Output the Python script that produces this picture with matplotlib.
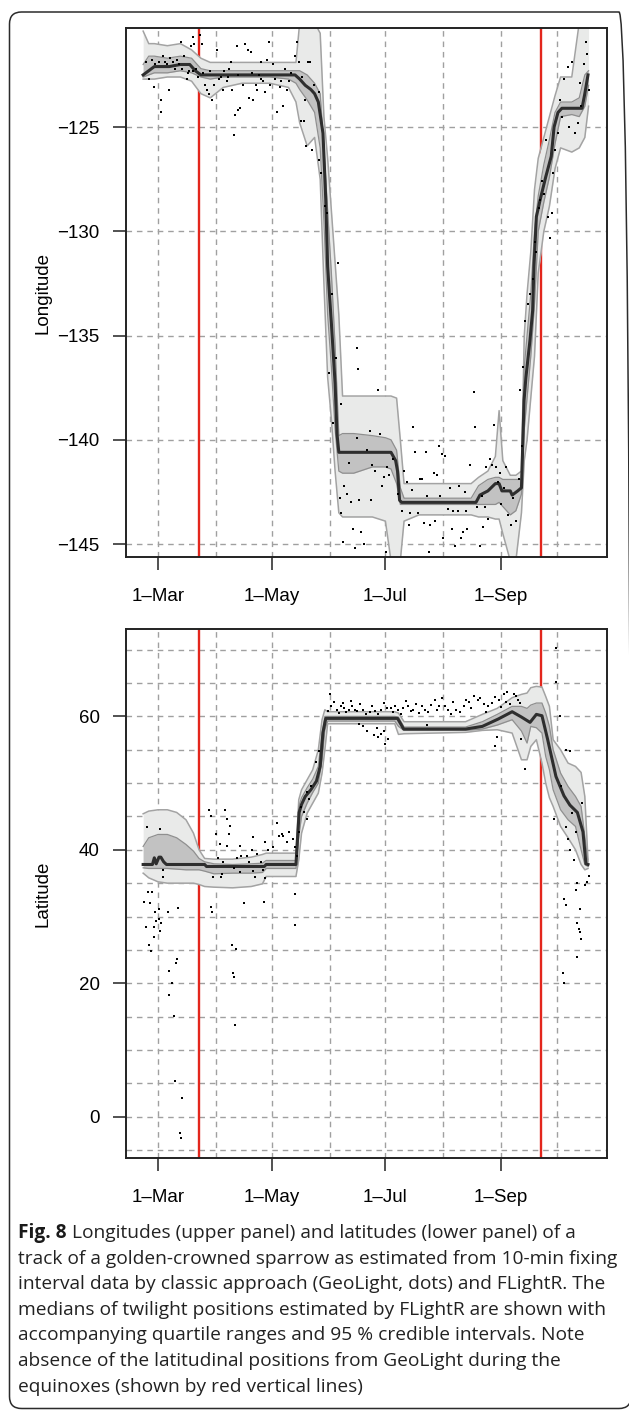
import matplotlib
matplotlib.use("Agg")
import matplotlib.pyplot as plt
from matplotlib.patches import FancyBboxPatch
from matplotlib.transforms import IdentityTransform

# %%
# DATA (day of year, 2013)

month_ticks = [60, 121, 182, 244]
month_labels = ["1\u2013Mar", "1\u2013May", "1\u2013Jul", "1\u2013Sep"]
month_grid = [60, 91, 121, 152, 182, 213, 244, 274]
equinox_days = [82, 265.5]

# longitude - FLightR median
lon_med_day = [52, 55, 58, 66, 72, 77, 80, 83, 100, 120, 133.5, 136, 139, 142, 144, 146,
               148.5, 150, 151, 153, 155, 156, 157, 170, 185, 187.5, 188.5, 189.6, 190.7,
               210, 230.6, 232.7, 237, 241, 243, 244.5, 249, 250, 253, 255, 256.4, 257.4,
               259.6, 261, 261.7, 263, 265, 268, 271, 272.5, 274.6, 276.7, 282, 287.5, 289, 290.7]
lon_med = [-122.5, -122.3, -122.1, -122.1, -122.0, -122.0, -122.3, -122.5, -122.5, -122.5,
           -122.5, -122.7, -123.0, -123.2, -123.4, -123.8, -125.3, -128.5, -131.7, -134.4,
           -137.3, -139.7, -140.6, -140.6, -140.6, -141.0, -141.5, -142.9, -143.0, -143.0,
           -143.0, -142.65, -142.45, -142.1, -142.1, -142.45, -142.45, -142.65, -142.45,
           -142.3, -138.1, -137.0, -135.2, -133.8, -131.7, -129.3, -128.5, -127.4, -126.4,
           -125.0, -124.3, -124.1, -124.1, -124.1, -123.4, -122.5]

# longitude - quartiles and 95% interval
lon_band_day = [52, 55, 58, 65, 72, 78, 83, 88, 95, 105, 120, 130, 134, 136, 140, 144, 147,
                149, 151, 153, 155, 157, 159, 165, 175, 182, 185, 188, 190, 192, 200, 215,
                228, 232, 237, 241, 243, 245, 249, 252, 255, 256.5, 258, 260, 262, 264, 267,
                270, 273, 276, 282, 286, 289, 291]
lon_hi95 = [-120.4, -121.0, -121.0, -121.1, -121.0, -121.3, -121.7, -121.9, -121.9, -121.9,
            -121.9, -121.9, -121.9, -120.0, -120.0, -120.0, -120.5, -124.5, -126.5, -129.0,
            -131.5, -134.0, -137.9, -137.9, -137.9, -137.9, -137.9, -138.0, -140.0, -142.1,
            -142.1, -142.1, -142.1, -141.8, -141.5, -140.8, -138.6, -141.0, -141.7, -141.7,
            -141.5, -135.0, -133.0, -131.0, -128.0, -126.5, -125.5, -124.5, -123.5, -122.6,
            -122.6, -120.0, -120.0, -120.0]
lon_q75 = [-122.0, -121.6, -121.6, -121.7, -121.6, -121.7, -122.2, -122.3, -122.3, -122.3,
           -122.3, -122.3, -122.3, -122.3, -122.5, -122.9, -123.4, -126.0, -129.0, -132.0,
           -135.5, -139.8, -139.7, -139.7, -139.8, -139.9, -140.0, -140.5, -142.3, -142.8,
           -142.8, -142.8, -142.8, -142.2, -141.9, -141.8, -141.8, -141.9, -141.9, -141.9,
           -141.9, -136.5, -135.0, -133.0, -130.0, -128.3, -126.8, -125.6, -124.3, -123.8,
           -123.8, -123.6, -122.5, -122.3]
lon_q25 = [-122.6, -122.5, -122.4, -122.4, -122.3, -122.4, -122.6, -122.7, -122.6, -122.6,
           -122.6, -122.7, -122.9, -123.2, -123.7, -124.3, -126.0, -129.5, -134.0, -136.5,
           -139.5, -141.5, -141.6, -141.6, -141.3, -141.3, -141.4, -142.1, -143.1, -143.1,
           -143.1, -143.1, -143.1, -143.1, -143.1, -143.1, -143.0, -143.2, -143.6, -143.4,
           -142.6, -139.5, -138.0, -136.0, -133.5, -130.0, -128.6, -127.4, -125.8, -124.5,
           -124.4, -124.5, -124.0, -123.0]
lon_lo95 = [-122.7, -122.7, -122.7, -122.6, -122.6, -122.8, -123.4, -123.6, -123.1, -122.9,
            -122.9, -123.1, -123.8, -124.8, -125.9, -125.5, -127.5, -132.5, -137.0, -139.0,
            -141.5, -143.5, -143.7, -143.7, -143.7, -143.9, -145.8, -145.8, -145.8, -143.9,
            -143.6, -143.6, -143.6, -143.7, -143.7, -143.8, -143.8, -144.5, -145.8, -145.8,
            -143.5, -141.0, -140.0, -138.0, -136.0, -132.0, -130.0, -128.8, -127.0, -126.0,
            -126.2, -126.0, -125.5, -124.0]

# longitude - GeoLight positions (dots)
lon_dot_day = [53.8, 55.4, 57.7, 56.5, 60.3, 61.8, 61.8, 63.6, 65.7, 67.9, 70, 72.2, 73, 75.5,
               76.5, 77.5, 78.7, 79.5, 80.5, 82.4, 83.5, 85.1, 86.2, 87.3, 89, 89.8, 91.6,
               92.7, 93.7, 94.8, 96.9, 98, 99, 99.9, 101.5, 102.3, 102.9, 104.2, 100.6, 105.6,
               106.7, 108.4, 108.8, 110.1, 111.2, 112.3, 113.1, 114.2, 115.3, 116.4, 117.4,
               118.5, 119.6, 120.3, 121.7, 123.9, 125.4, 126, 127.1, 129.3, 130.4, 134.7,
               135.8, 136.8, 138.3, 140.7, 141.8, 139, 139.5, 142.8, 146.1, 146.5, 147.2,
               58.5, 62.5, 64.6, 66.5, 69, 71, 74, 76, 79, 81.5, 84, 88, 95.5, 97.5, 103,
               110.5, 115, 122.5, 128, 131.5, 133.5, 137, 143.5,
               149.7, 150.8, 151.9, 153.5, 154.1, 155.5, 156.5, 158, 157.5, 158.4, 159, 160,
               161.5, 162.7, 163.5, 164.8, 165.5, 167, 167.2, 166.5, 168, 169.1, 170.5, 172,
               173.5, 174, 175, 177.8, 176.5, 179, 180, 181, 182.5, 183, 184, 186, 188.5,
               190.7, 192, 193.5, 194.5, 195, 196.5, 197, 198, 199.3, 200.5, 201.5, 202.5,
               203.6, 204.5, 205.5, 206, 207.9, 208.5, 209.5, 210.5, 211.5, 212.3, 213, 214,
               215.5, 216.5, 217.5, 218.5, 219.5, 220.8, 221.5, 222.5, 223.5, 224.5, 225.2,
               226, 227.5, 229.5, 230, 231, 232.5, 233.8, 234.5, 235.5, 236, 237, 238.1, 239,
               240.5, 241.5, 242.5, 243.5, 244, 245.5, 246.5, 248, 249.5, 250.5, 252, 253.5,
               254, 255.3, 256, 257, 258.5, 259.6, 261, 262, 263, 264.3, 265, 266, 267.3,
               268.2, 269, 270.5, 271.5, 272, 273, 274.5, 275.5, 276.8, 277.9, 279.9, 280.5,
               282.3, 283.8, 285.2, 286.5, 287.1, 288.5, 289.7, 290.3, 291]
lon_dot = [-121.9, -122.7, -123.1, -121.8, -121.9, -123.7, -124.3, -121.9, -123.2, -121.9,
           -121.8, -120.9, -122.2, -122.7, -122.3, -121.1, -120.7, -121.0, -122.2, -120.6,
           -121.0, -123.0, -123.2, -123.4, -123.7, -123.0, -121.3, -122.7, -122.6, -123.2,
           -122.8, -122.2, -121.9, -123.2, -124.4, -121.1, -124.2, -124.1, -125.4, -123.0,
           -121.0, -121.3, -123.6, -121.4, -123.7, -123.0, -123.2, -122.5, -122.7, -122.8,
           -123.3, -121.8, -120.9, -123.0, -122.0, -124.3, -123.1, -122.8, -124.0, -123.2,
           -122.8, -120.9, -121.9, -124.7, -124.7, -121.9, -121.9, -123.7, -125.9, -126.1,
           -123.3, -126.6, -127.2,
           -122.0, -121.6, -122.0, -121.7, -122.2, -122.0, -121.6, -122.4, -122.3, -122.6,
           -122.4, -122.3, -122.3, -122.6, -122.5, -122.4, -121.9, -122.7, -122.2, -122.4,
           -121.6, -122.6, -123.0,
           -128.8, -129.1, -136.8, -133.0, -139.2, -136.1, -131.5, -138.3, -142.8, -143.5,
           -144.9, -142.2, -142.6, -141.1, -143.0, -144.3, -145.2, -135.6, -136.6, -139.9,
           -142.9, -144.4, -145.0, -140.5, -139.6, -142.9, -141.2, -137.6, -141.5, -139.7,
           -142.2, -141.8, -145.4, -141.3, -141.7, -140.9, -142.6, -143.4, -141.5, -142.0,
           -144.1, -143.5, -142.4, -139.4, -140.6, -143.5, -141.9, -141.9, -144.0, -140.6,
           -142.7, -145.4, -144.1, -141.6, -143.9, -141.7, -140.3, -142.7, -140.7, -144.7,
           -140.8, -143.3, -142.3, -144.3, -143.4, -145.1, -143.4, -142.2, -144.7, -144.4,
           -142.5, -143.4, -144.3, -141.2, -137.7, -139.4, -143.2, -145.1, -142.7, -144.2,
           -143.2, -141.3, -143.8, -140.9, -141.2, -139.3, -141.3, -142.0, -141.6, -143.1,
           -142.3, -141.3, -143.6, -144.1, -142.8, -143.9, -141.9,
           -137.6, -140.3, -136.5, -134.3, -133.5, -133.0, -132.3, -130.5, -131.0, -128.9,
           -128.5, -127.6, -128.2, -125.6, -129.3, -130.3, -129.1, -127.2, -126.1, -125.3,
           -123.7, -124.5, -122.7, -122.1, -125.0, -121.9, -125.3, -124.8, -122.9, -124.0,
           -122.0, -120.9, -121.5, -123.2]

# latitude - FLightR median
lat_med_day = [52, 57, 58, 59, 60.5, 61.5, 63, 64.5, 85, 86, 117, 118, 134, 135.7, 137, 139,
               142, 145, 147, 148.5, 150, 188.5, 191.8, 225, 234, 242.5, 250, 255, 259.6,
               263, 266, 269, 273.5, 277.8, 281, 285, 288, 289.6, 290.7]
lat_med = [37.8, 37.8, 38.8, 37.9, 38.9, 38.9, 38.2, 37.8, 37.8, 37.5, 37.5, 37.8, 37.8, 45.6,
           46.8, 48.0, 49.0, 50.3, 52.5, 57.6, 59.7, 59.7, 58.1, 58.1, 58.5, 59.6, 60.7, 59.9,
           59.1, 60.3, 60.1, 56.6, 51.0, 48.1, 46.7, 45.6, 42.7, 37.9, 37.8]

# latitude - quartiles and 95% interval
lat_band_day = [52, 55, 60, 65, 70, 75, 79, 82, 85, 90, 100, 110, 116, 118, 133, 134, 135.5,
                137, 140, 143, 146, 148, 149.5, 151, 187, 189, 192, 225, 234, 242, 250, 255,
                258, 260, 263, 266, 268, 270, 272, 276, 280, 284, 287, 289, 290.7]
lat_hi95 = [45.4, 45.8, 46.0, 46.0, 45.6, 44.5, 42.5, 40.0, 38.7, 38.6, 38.6, 38.9, 39.3, 39.5,
            39.5, 39.5, 47.5, 49.0, 50.5, 52.0, 55.0, 59.5, 61.0, 60.7, 60.7, 60.5, 59.2, 59.2,
            60.3, 61.2, 62.8, 63.3, 63.5, 64.3, 64.5, 64.4, 63.0, 61.5, 56.5, 55.0, 53.0,
            52.5, 51.6, 48.0, 38.5]
lat_q75 = [40.5, 41.8, 42.3, 42.3, 41.8, 40.8, 39.8, 38.7, 38.2, 37.9, 37.8, 37.9, 38.0, 38.4,
           38.4, 38.4, 46.5, 47.8, 49.3, 50.6, 52.5, 57.5, 60.0, 60.0, 60.0, 59.9, 58.4, 58.4,
           59.2, 60.3, 61.5, 61.5, 61.2, 61.7, 62.0, 62.0, 60.5, 58.5, 55.0, 51.5, 49.5,
           48.0, 46.5, 42.0, 38.2]
lat_q25 = [37.3, 37.2, 37.2, 37.2, 37.1, 37.0, 37.0, 37.0, 36.8, 36.4, 36.5, 36.5, 36.6, 37.2,
           37.2, 37.2, 42.0, 45.0, 47.0, 48.6, 50.0, 53.5, 58.0, 59.3, 59.3, 58.5, 57.9, 57.9,
           58.1, 58.7, 59.5, 57.8, 56.0, 58.5, 58.3, 57.5, 54.0, 52.0, 49.0, 46.0, 44.5,
           43.5, 40.0, 37.8, 37.5]
lat_lo95 = [36.5, 35.8, 35.2, 35.0, 35.0, 35.0, 35.0, 34.8, 34.5, 34.4, 34.3, 34.5, 34.9, 36.0,
            36.0, 36.0, 38.5, 42.5, 45.5, 47.0, 48.5, 51.5, 55.0, 58.9, 58.9, 57.3, 57.4, 57.6,
            57.9, 58.0, 57.5, 53.5, 53.5, 55.5, 56.5, 53.0, 50.0, 47.8, 46.5, 43.5, 41.8,
            40.0, 37.8, 37.0, 37.2]

# latitude - GeoLight positions (dots)
lat_dot_day = [53.5, 56, 58, 59, 61.4, 55, 66, 67.5, 70, 69.5, 65.7, 68.3, 69, 72.8, 72, 72.3,
               54, 61, 62.7, 62.5, 54.6, 57, 52.5, 55.5, 60.3, 58.5, 65.3, 70.5, 60.7, 58, 61,
               87.4, 88.5, 96, 97, 98.5, 98, 91, 93, 97, 104, 111, 110.5, 92, 95, 102.4, 104.5,
               107.7, 109, 113, 115, 117.4, 119, 121.7, 123.6, 125, 126.7, 127, 129, 130.3,
               132.5, 133.5, 135.6, 134.5, 94.5, 94, 101, 104, 111, 112, 116.4, 117.4, 89.6,
               106, 117, 133.5, 89, 88.5, 99.7, 101.8, 100, 100.5, 101.3, 133.5,
               136.7, 140, 142, 145, 146.3, 141, 139.7, 138.5,
               152, 153, 156, 158, 160, 162.6, 164, 167, 170, 173.5, 176.5, 179.7, 183, 185,
               187, 189, 191.7, 194, 197, 200, 203.3, 206.4, 208.7, 211, 214, 217, 220, 225,
               227, 229.4, 231.5, 234.7, 237, 241, 243, 245.5, 247.5, 250.8, 253,
               151, 154.5, 157, 159, 161, 163.5, 165.5, 168.5, 171.5, 175, 178, 181, 186,
               190.5, 193, 195.5, 198.5, 201.5, 205, 209.5, 212.5, 215.5, 218.5, 222, 224,
               228, 233, 236, 239, 244, 246.5, 249, 252, 254,
               168, 170, 177.5, 178, 179.7, 182, 181.5, 204.5, 241, 242, 257, 255, 172, 176,
               183.5,
               273.5, 273.5, 275.6, 278.8, 281, 272.5, 278.8, 280, 281, 284, 285, 290, 291,
               289, 284, 286.5, 278, 278.8, 286, 285, 286.5, 287, 285, 277.5, 278, 282, 287.5,
               276, 283]
lat_dot = [28.4, 24.8, 27.0, 29.3, 29.0, 25.7, 21.8, 20.0, 23.7, 23.0, 18.2, 15.1, 5.4, 2.8,
           -2.4, -3.2, 43.4, 43.1, 36.9, 35.9, 33.7, 33.7, 32.2, 32.0, 31.2, 30.7, 30.7, 31.3,
           29.7, 28.5, 27.8,
           46.0, 45.1, 46.0, 44.6, 43.6, 42.4, 42.4, 40.9, 40.6, 40.6, 41.9, 39.9, 38.7, 38.2,
           38.7, 39.0, 39.1, 38.2, 39.3, 38.2, 41.2, 39.9, 40.4, 44.0, 42.1, 42.4, 42.0, 41.2,
           42.6, 41.6, 40.4, 42.6, 39.1, 36.4, 35.9, 37.2, 36.6, 36.8, 35.9, 36.9, 35.7, 35.9,
           32.0, 32.2, 33.4, 30.7, 31.5, 25.8, 25.2, 21.6, 21.0, 13.7, 28.7,
           46.4, 48.6, 49.6, 53.1, 54.8, 47.6, 44.6, 45.6,
           63.3, 61.5, 61.0, 61.5, 61.3, 61.0, 61.5, 60.8, 61.0, 60.7, 60.8, 61.0, 61.3, 61.3,
           61.5, 61.0, 61.3, 61.5, 61.0, 60.5, 61.0, 61.7, 62.4, 61.5, 61.6, 60.3, 61.0, 62.4,
           62.2, 63.0, 62.4, 61.9, 61.5, 62.9, 62.4, 63.4, 63.6, 63.3, 62.4,
           60.8, 62.2, 60.5, 62.0, 60.6, 62.3, 61.0, 61.8, 60.4, 61.5, 60.3, 62.0, 60.6,
           60.4, 62.3, 60.8, 61.8, 61.5, 60.6, 60.9, 62.8, 61.0, 62.2, 60.6, 61.6, 61.3,
           62.8, 60.7, 62.0, 61.4, 62.2, 61.8, 63.0, 62.0,
           58.8, 58.5, 58.3, 56.9, 57.4, 55.8, 57.8, 58.7, 55.5, 56.9, 52.1, 56.6, 57.8, 57.2,
           56.6,
           70.3, 65.2, 60.0, 55.0, 54.8, 44.6, 43.4, 41.6, 39.9, 42.6, 35.0, 35.2, 36.1, 34.7,
           33.9, 31.2, 32.7, 31.8, 28.2, 29.0, 27.7, 26.7, 24.0, 21.5, 20.0, 45.5, 47.0, 49.5,
           38.5]

caption_lines = [
    "Longitudes (upper panel) and latitudes (lower panel) of a",
    "track of a golden-crowned sparrow as estimated from 10-min fixing",
    "interval data by classic approach (GeoLight, dots) and FLightR. The",
    "medians of twilight positions estimated by FLightR are shown with",
    "accompanying quartile ranges and 95 % credible intervals. Note",
    "absence of the latitudinal positions from GeoLight during the",
    "equinoxes (shown by red vertical lines)",
]

# %%
# STYLE

plt.rcParams["font.family"] = ["Liberation Sans Narrow", "Liberation Sans", "DejaVu Sans"]
W, H = 629, 1410
LIGHT, LIGHT_EDGE = "#e9eae9", "#a3a3a3"
DARK, DARK_EDGE = "#c2c2c2", "#8f8f8f"
GRID = "#a0a0a0"
RED = "#e3261c"

fig = plt.figure(figsize=(W / 100, H / 100), dpi=100)

# rounded frame round the figure (pixel coordinates, origin bottom-left);
# right edge sits just outside the picture, as in the page crop
frame = FancyBboxPatch((9.5, 1.5), 631 - 9.5, 1398 - 1.5,
                       boxstyle="round,pad=0,rounding_size=12",
                       transform=IdentityTransform(), fill=False,
                       edgecolor="#2b2b2b", linewidth=1.1)
fig.patches.append(frame)

ax1 = fig.add_axes([126 / W, 1 - 557 / H, 481 / W, 529 / H])
ax2 = fig.add_axes([126 / W, 1 - 1158 / H, 481 / W, 529 / H])


def draw_panel(ax, band_day, hi95, q75, q25, lo95, med_day, med, dot_day, dot,
               ylim, yticks, ylabels, ygrid, ylabel):
    ax.set_xlim(42.8, 300.9)
    ax.set_ylim(*ylim)
    for d in month_grid:
        ax.axvline(d, color=GRID, lw=1.0, ls=(0, (4, 3.5)), zorder=0)
    for v in ygrid:
        ax.axhline(v, color=GRID, lw=1.0, ls=(0, (4, 3.5)), zorder=0)
    for d in equinox_days:
        ax.axvline(d, color=RED, lw=1.7, zorder=1)

    ax.fill_between(band_day, lo95, hi95, color=LIGHT, lw=0, zorder=2)
    ax.plot(band_day, hi95, color=LIGHT_EDGE, lw=1.1, zorder=2)
    ax.plot(band_day, lo95, color=LIGHT_EDGE, lw=1.1, zorder=2)
    ax.fill_between(band_day, q25, q75, color=DARK, lw=0, zorder=3)
    ax.plot(band_day, q75, color=DARK_EDGE, lw=0.9, zorder=3)
    ax.plot(band_day, q25, color=DARK_EDGE, lw=0.9, zorder=3)
    ax.plot(med_day, med, color="#2e2e2e", lw=2.2, zorder=4)
    ax.plot(dot_day, dot, "s", ms=1.9, mew=0, color="black", zorder=5)

    ax.set_xticks(month_ticks)
    ax.set_xticklabels(month_labels)
    ax.set_yticks(yticks)
    ax.set_yticklabels(ylabels)
    ax.tick_params(direction="out", length=9.5, width=1.1, labelsize=13.5, color="#222222")
    ax.tick_params(axis="x", pad=12.5)
    ax.tick_params(axis="y", pad=9.5)
    for s in ax.spines.values():
        s.set_linewidth(1.4)
        s.set_color("#222222")
    ax.set_ylabel(ylabel, fontsize=13.5)
    ax.yaxis.set_label_coords(-0.155, 0.5)


draw_panel(ax1, lon_band_day, lon_hi95, lon_q75, lon_q25, lon_lo95,
           lon_med_day, lon_med, lon_dot_day, lon_dot,
           (-145.62, -120.25), [-125, -130, -135, -140, -145],
           ["\u2212125", "\u2212130", "\u2212135", "\u2212140", "\u2212145"],
           [-125, -130, -135, -140, -145], "Longitude")

draw_panel(ax2, lat_band_day, lat_hi95, lat_q75, lat_q25, lat_lo95,
           lat_med_day, lat_med, lat_dot_day, lat_dot,
           (-6.2, 73.1), [0, 20, 40, 60], ["0", "20", "40", "60"],
           list(range(-5, 75, 5)), "Latitude")

# %%
# CAPTION - size chosen so the longest line spans about 596 px

cap_font = ["Open Sans", "DejaVu Sans"]
renderer = fig.canvas.get_renderer()
probe = fig.text(0, 0, caption_lines[1], fontsize=12, family=cap_font)
probe_w = probe.get_window_extent(renderer=renderer).width
probe.remove()
cap_size = 12 * 596 / probe_w

x0 = 18 / W
y_first = 1 - 1233 / H
dy = 25.6 / H
t = fig.text(x0, y_first, "Fig. 8", fontsize=cap_size, fontweight="bold",
             family=cap_font, va="center", ha="left", color="#1a1a1a")
bb = t.get_window_extent(renderer=renderer)
fig.text(bb.x1 / W + 5 / W, y_first, caption_lines[0], fontsize=cap_size,
         family=cap_font, va="center", ha="left", color="#222222")
for i, line in enumerate(caption_lines[1:], start=1):
    fig.text(x0, y_first - i * dy, line, fontsize=cap_size, family=cap_font,
             va="center", ha="left", color="#222222")

fig.savefig("out.png", dpi=100)
